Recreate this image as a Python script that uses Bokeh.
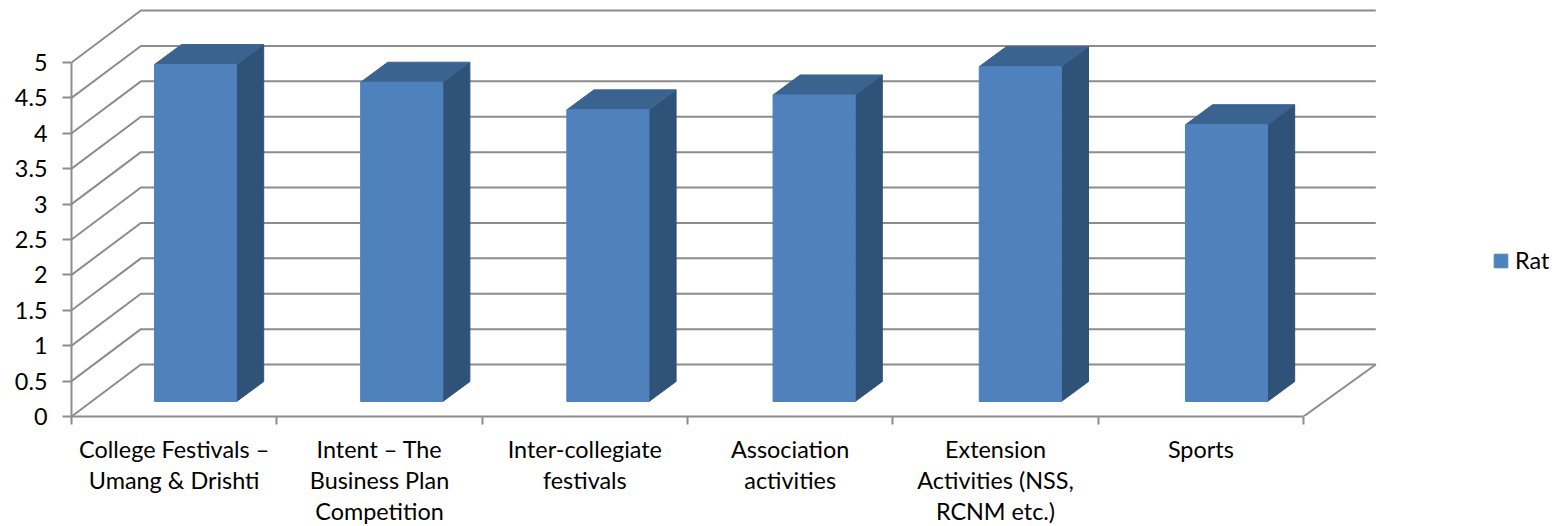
from bokeh.plotting import figure
from bokeh.models import Range1d, FixedTicker, Legend, LegendItem
from bokeh.embed import file_html
from bokeh.resources import INLINE

categories = ["College Festivals \u2013\nUmang & Drishti", "Intent \u2013 The\nBusiness Plan\nCompetition",
              "Inter-collegiate\nfestivals", "Association\nactivities",
              "Extension\nActivities (NSS,\nRCNM etc.)", "Sports"]
ratings = [4.76, 4.51, 4.12, 4.33, 4.73, 3.91]
y_ticks = [0, 0.5, 1, 1.5, 2, 2.5, 3, 3.5, 4, 4.5, 5]
y_labels = ["0", "0.5", "1", "1.5", "2", "2.5", "3", "3.5", "4", "4.5", "5"]
series_name = "Ratings"

FONT = "Lato"
FS = "23.4px"
GRID = "#8C8C8C"
# 3D projection, in data units
WALL_DX, WALL_DY = 0.338, 0.734
BACK_RIGHT_DX = 0.352
BAR_W = 0.400
BAR_OFF = 0.404
BAR_STEP = 1.0042
BASE_Y = 0.212
DEPTH_DX, DEPTH_DY = 0.132, 0.282

p = figure(frame_width=1478, frame_height=408, toolbar_location=None, output_backend="svg",
           x_range=Range1d(0, 7.198), y_range=Range1d(0, 5.763),
           min_border_left=71, min_border_right=0, min_border_top=8, min_border_bottom=0,
           outline_line_color=None, background_fill_color="white", border_fill_color="white")
p.grid.visible = False

n = len(categories)
# walls
xs, ys = [], []
for t in y_ticks:
    xs.append([0, WALL_DX, n + BACK_RIGHT_DX])
    ys.append([t, t + WALL_DY, t + WALL_DY])
xs.append([n, n + BACK_RIGHT_DX])
ys.append([0, WALL_DY])
p.multi_line(xs, ys, line_color=GRID, line_width=2)

# bars
left = [BAR_OFF + i * BAR_STEP for i in range(n)]
right = [l + BAR_W for l in left]
bottom = [BASE_Y] * n
top = [BASE_Y + v for v in ratings]
side_x = [[r, r + DEPTH_DX, r + DEPTH_DX, r] for r in right]
side_y = [[BASE_Y, BASE_Y + DEPTH_DY, t + DEPTH_DY, t] for t in top]
top_x = [[l, l + DEPTH_DX, r + DEPTH_DX, r] for l, r in zip(left, right)]
top_y = [[t, t + DEPTH_DY, t + DEPTH_DY, t] for t in top]
p.patches(side_x, side_y, fill_color="#2F5279", line_color="#2F5279")
p.patches(top_x, top_y, fill_color="#3B6390", line_color="#3B6390")
front = p.quad(left=left, right=right, bottom=bottom, top=top, fill_color="#4F81BD", line_color="#4F81BD")

# axes
ax = p.yaxis[0]
ax.ticker = FixedTicker(ticks=y_ticks)
ax.major_label_overrides = {t: s for t, s in zip(y_ticks, y_labels)}
ax.bounds = (0, 5)
ax.axis_line_color = GRID
ax.axis_line_width = 2
ax.major_tick_line_color = GRID
ax.major_tick_line_width = 2
ax.major_tick_out = 9
ax.major_tick_in = 0
ax.minor_tick_line_color = None
ax.major_label_standoff = 15
ax.major_label_text_font = FONT
ax.major_label_text_font_size = FS
ax.major_label_text_color = "black"

bx = p.xaxis[0]
centers = [i + 0.5 for i in range(n)]
bx.ticker = FixedTicker(ticks=centers, minor_ticks=list(range(n + 1)))
bx.major_label_overrides = {c: s for c, s in zip(centers, categories)}
bx.bounds = (0, n)
bx.axis_line_color = GRID
bx.axis_line_width = 2
bx.major_tick_line_color = None
bx.major_tick_out = 0
bx.major_tick_in = 0
bx.minor_tick_line_color = GRID
bx.minor_tick_line_width = 2
bx.minor_tick_out = 8
bx.minor_tick_in = 0
bx.major_label_standoff = 10
bx.major_label_text_font = FONT
bx.major_label_text_font_size = FS
bx.major_label_text_color = "black"
bx.major_label_text_line_height = 1.11

legend = Legend(items=[LegendItem(label=series_name, renderers=[front])], location=(1421, 142),
                border_line_color=None, background_fill_alpha=0, glyph_width=17, glyph_height=17,
                label_text_font=FONT, label_text_font_size=FS, label_text_color="black",
                padding=0, margin=0, label_standoff=6)
p.add_layout(legend, "center")

open("out.html", "w").write(file_html(p, INLINE))
